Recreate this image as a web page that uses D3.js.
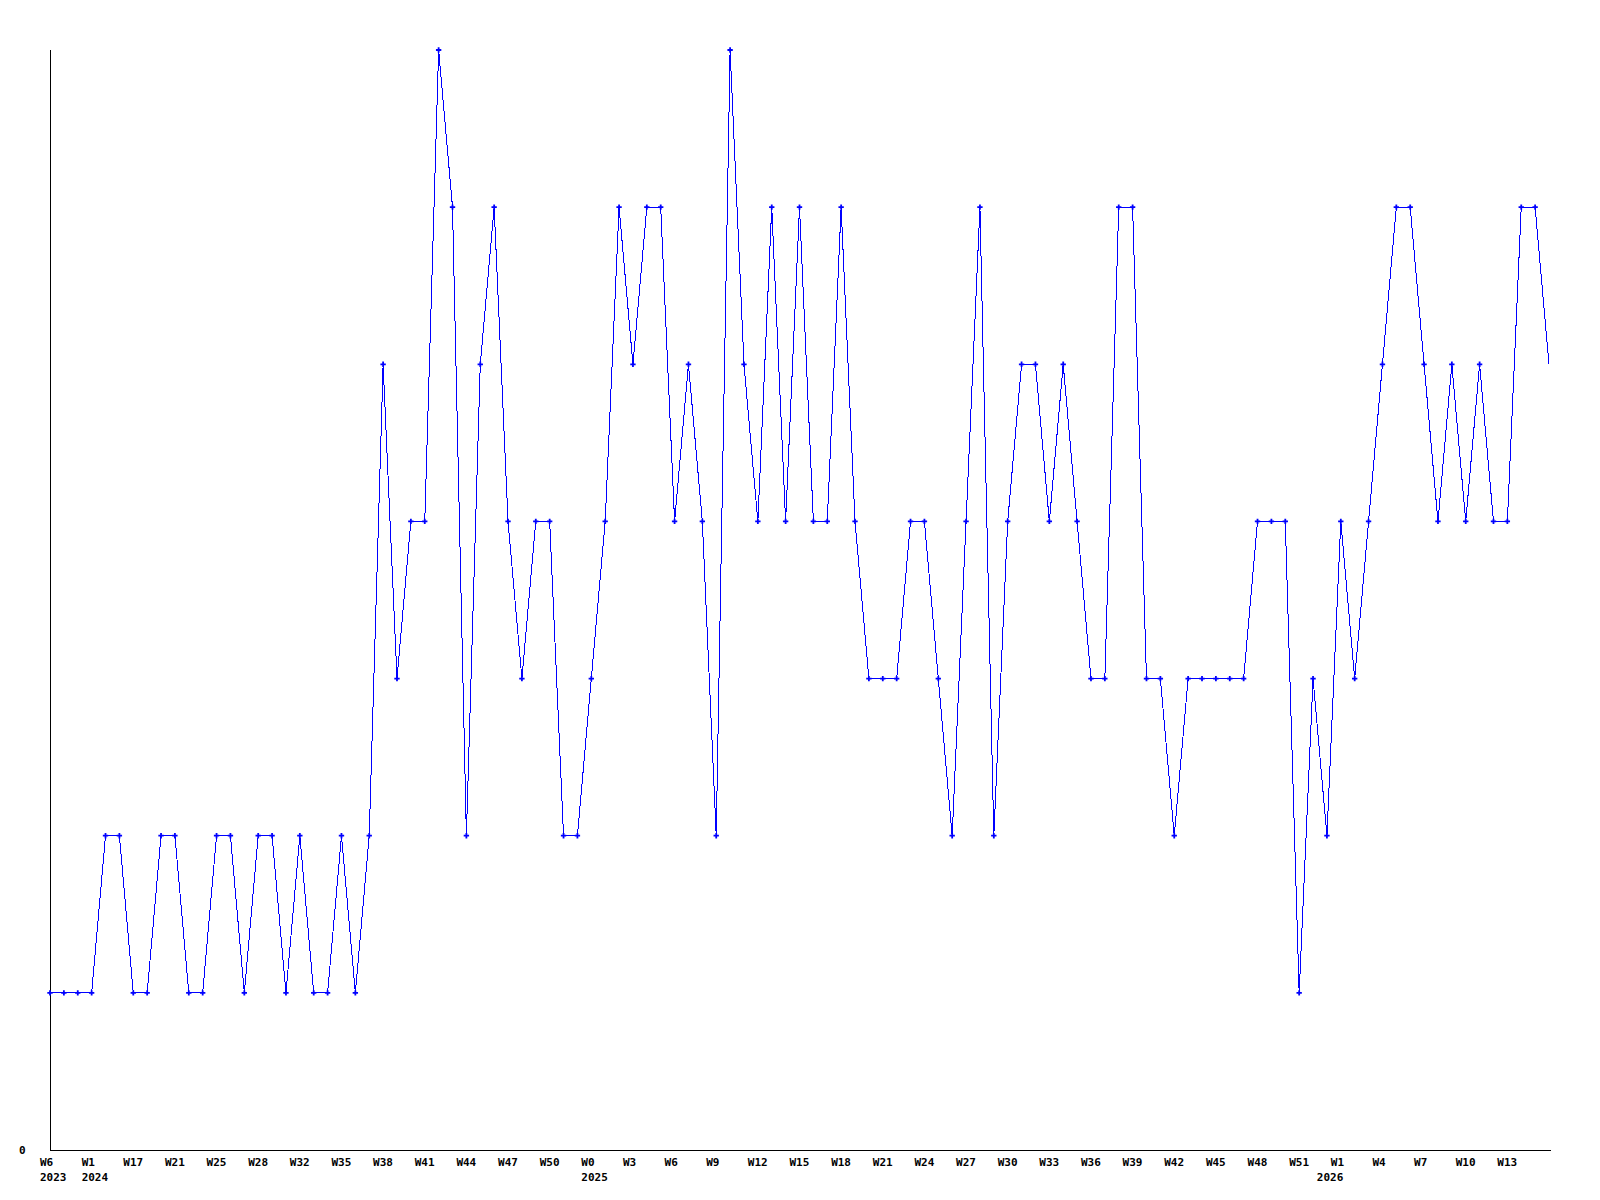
<!DOCTYPE html>
<html>
<head>
<meta charset="utf-8">
<script src="https://cdn.jsdelivr.net/npm/d3@7"></script>
<style>
  body { margin: 0; background: #fff; }
  svg { display: block; }
  text { font-family: "DejaVu Sans Mono", "Liberation Mono", monospace; font-weight: bold; font-size: 11px; fill: #000; }
</style>
</head>
<body>
<svg width="1600" height="1200"></svg>
<script>
// one value per week, left to right
let values = [1,1,1,1,2,2,1,1,2,2,1,1,2,2,1,2,2,1,2,1,1,2,1,2,5,3,4,4,7,6,
              2,5,6,4,3,4,4,2,2,3,4,6,5,6,6,4,5,4,2,7,5,4,6,4,6,4,4,6,4,3,
              3,3,4,4,3,2,4,6,2,4,5,5,4,5,4,3,3,6,6,3,3,2,3,3,3,3,3,4,4,4,
              1,3,2,4,3,4,5,6,6,5,4,5,4,5,4,4,6,6,5];

// every third point carries a label
let weekLabels = ["W6","W1","W17","W21","W25","W28","W32","W35","W38","W41","W44","W47",
                  "W50","W0","W3","W6","W9","W12","W15","W18","W21","W24","W27","W30",
                  "W33","W36","W39","W42","W45","W48","W51","W1","W4","W7","W10","W13"];
let yearLabels = {0:"2023", 1:"2024", 13:"2025", 31:"2026"};
let labelStep = 3;

let plotLeft = 50, plotTop = 50, plotBottom = 1150, plotRight = 1549;
// the last year label sits a little further left in the original
let yearNudge = {31: -14};

let svg = d3.select('svg');

let x = d3.scalePoint().domain(d3.range(values.length)).range([plotLeft, plotRight]);
let y = d3.scaleLinear().domain([0, 7]).range([plotBottom, plotTop]);

// axes
svg.append('line').attr('x1', plotLeft + 0.5).attr('x2', plotLeft + 0.5).attr('y1', plotTop).attr('y2', plotBottom + 1)
    .attr('stroke', '#000').attr('stroke-width', 1);
svg.append('line').attr('x1', plotLeft).attr('x2', plotRight + 2).attr('y1', plotBottom + 0.5).attr('y2', plotBottom + 0.5)
    .attr('stroke', '#000').attr('stroke-width', 1);

svg.append('text').attr('x', 19).attr('y', y(0) + 4).text('0');

weekLabels.forEach(function(lab, i){
    let px = x(i * labelStep);
    svg.append('text').attr('x', px - 10).attr('y', 1166).text(lab);
    if (yearLabels[i]) {
        svg.append('text').attr('x', px - 10 + (yearNudge[i] || 0)).attr('y', 1181).text(yearLabels[i]);
    }
});

let line = d3.line().x((d, i) => x(i)).y((d) => y(d));

svg.append('path').datum(values).attr('d', line)
    .attr('fill', 'none').attr('stroke', '#0000ff').attr('stroke-width', 1)
    .attr('shape-rendering', 'crispEdges');

// markers on all but the last (running) week
svg.selectAll('.pt').data(values.slice(0, -1)).enter().append('path')
    .attr('class', 'pt')
    .attr('transform', (d, i) => 'translate(' + x(i) + ',' + y(d) + ')')
    .attr('d', d3.symbol(d3.symbolCross).size(16))
    .attr('fill', '#0000ff');
</script>
</body>
</html>
